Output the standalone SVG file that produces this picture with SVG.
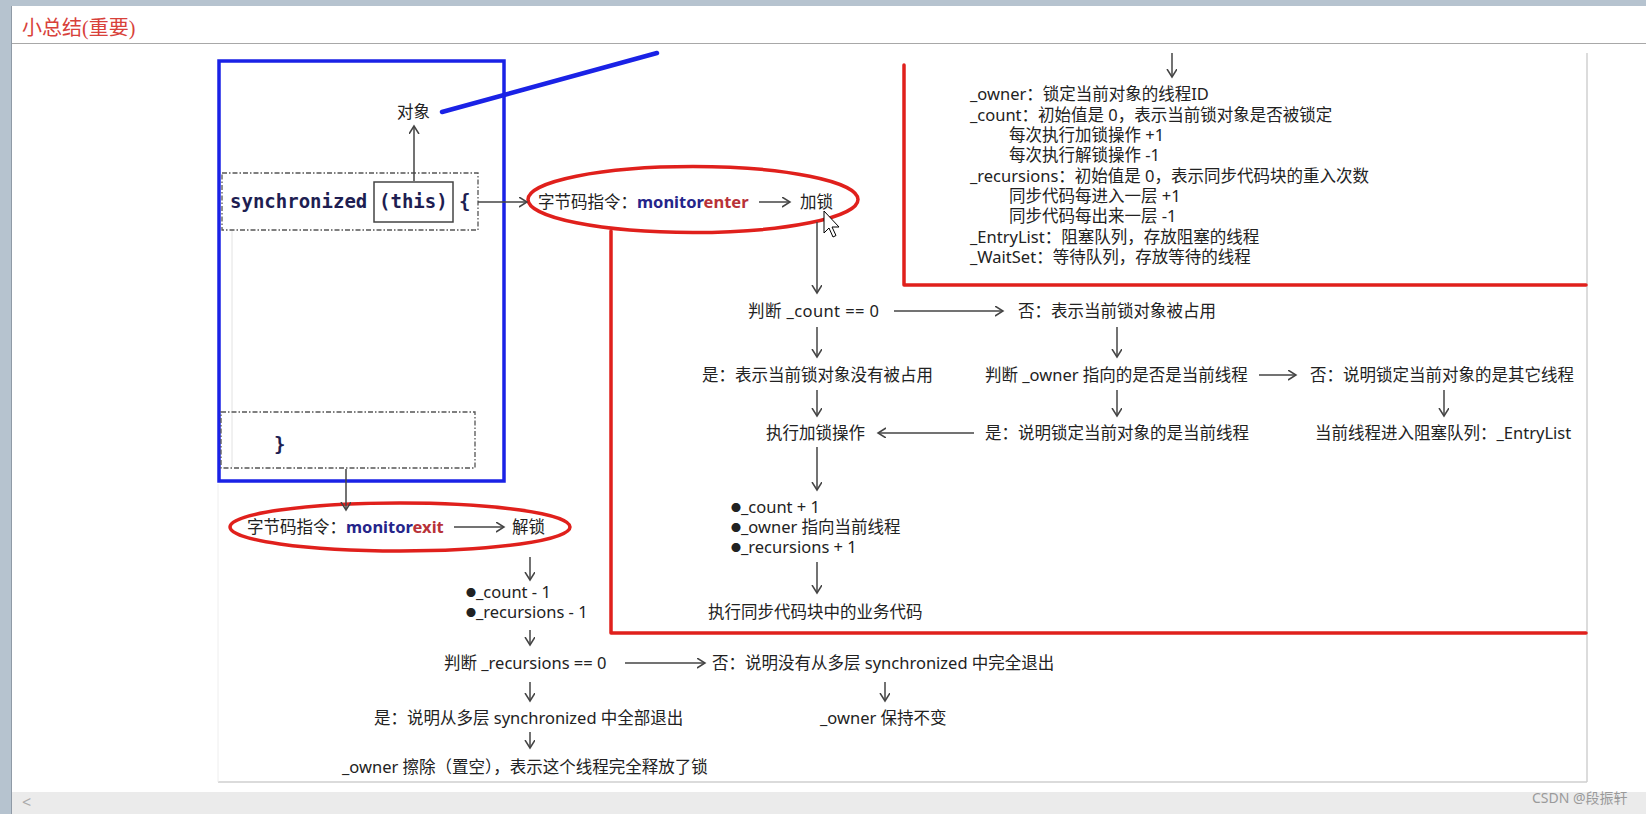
<svg xmlns="http://www.w3.org/2000/svg" width="1646" height="814" viewBox="0 0 1646 814">
<defs>
<style>
.t{font-family:"Noto Sans","Noto Sans CJK SC",sans-serif;font-size:16.5px;fill:#222}
.mono{font-family:"DejaVu Sans Mono","Liberation Mono",monospace;font-size:19px;font-weight:bold;fill:#1e1e52}
.b{font-weight:bold}
.blue{fill:#25258a}
.redt{fill:#b83238}
.dash{fill:none;stroke:#555;stroke-width:1.3;stroke-dasharray:5 2 1.5 2}
.red{fill:none;stroke:#e0201c;stroke-width:3.5;stroke-linecap:round;stroke-linejoin:round}
.con line{stroke:#444;stroke-width:1.5;marker-end:url(#ah)}
.bul{font-size:10px}
</style>
<marker id="ah" markerUnits="userSpaceOnUse" markerWidth="10" markerHeight="12" refX="8" refY="5" orient="auto">
<path d="M0,0 L8,5 L0,10" fill="none" stroke="#444" stroke-width="1.5"/>
</marker>
</defs>
<!-- window chrome -->
<rect x="0" y="0" width="1646" height="814" fill="#ffffff"/>
<rect x="0" y="0" width="1646" height="6" fill="#b6c3cf"/>
<rect x="0" y="0" width="12" height="814" fill="#b6c3cf"/>
<line x1="11.5" y1="6" x2="11.5" y2="814" stroke="#8f9aa6" stroke-width="1"/>
<g id="title">
<text x="22" y="35" style="font-family:'Liberation Serif','Noto Sans CJK SC',serif;font-size:20px;fill:#d8413a">小总结(重要)</text>
</g>
<line x1="12" y1="43.5" x2="1646" y2="43.5" stroke="#a8a8a8" stroke-width="1.2"/>
<rect x="12" y="792" width="1634" height="22" fill="#ebebeb"/>
<text x="22" y="808" style="font-family:'Noto Sans',sans-serif;font-size:16px;fill:#aaa">&lt;</text>
<text x="1532" y="803" style="font-family:'Noto Sans','Noto Sans CJK SC',sans-serif;font-size:14px;fill:#9a9a9a">CSDN @段振轩</text>
<!-- panel borders -->
<line x1="1587" y1="53" x2="1587" y2="782" stroke="#dcdcdc" stroke-width="2"/>
<line x1="218" y1="782" x2="1587" y2="782" stroke="#cfcfcf" stroke-width="1.5"/>
<line x1="218" y1="484" x2="218" y2="782" stroke="#eeeeee" stroke-width="1"/>
<line x1="232" y1="230" x2="232" y2="467" stroke="#e2e2e2" stroke-width="1"/>

<!-- code block -->
<g id="code">
<rect x="219" y="61" width="285" height="420" fill="none" stroke="#1a22e6" stroke-width="3.5"/>
<line x1="442" y1="112" x2="657" y2="53" stroke="#1a22e6" stroke-width="4.5" stroke-linecap="round"/>
<rect class="dash" x="222" y="173" width="256" height="57"/>
<rect class="dash" x="221" y="412" width="254" height="56"/>
<text class="mono" x="230" y="208">synchronized</text>
<rect x="374" y="182" width="79" height="40" fill="none" stroke="#444" stroke-width="1.5"/>
<text class="mono" x="379" y="208">(this)</text>
<text class="mono" x="459" y="208">{</text>
<text class="mono" x="274" y="451">}</text>
</g>
<g id="obj"><text class="t" x="397" y="118">对象</text></g>

<!-- red frames -->
<g id="frames">
<polyline class="red" points="611,231 611,633 1586,633"/>
<polyline class="red" points="904,65 904,285 1586,285"/>
<ellipse class="red" cx="693" cy="199.5" rx="165" ry="33"/>
<ellipse class="red" cx="400" cy="527" rx="170" ry="24"/>
</g>

<g id="enter">
<text class="t" x="538" y="208">字节码指令：<tspan class="b blue">monitor</tspan><tspan class="b redt">enter</tspan></text>
<text class="t" x="800" y="208">加锁</text>
</g>
<g id="exit">
<text class="t" x="247" y="533">字节码指令：<tspan class="b blue">monitor</tspan><tspan class="b redt">exit</tspan></text>
<text class="t" x="512" y="533">解锁</text>
</g>

<g id="fields">
<text class="t" x="970" y="100">_owner：锁定当前对象的线程ID</text>
<text class="t" x="970" y="121">_count：初始值是 0，表示当前锁对象是否被锁定</text>
<text class="t" x="1009" y="141">每次执行加锁操作 +1</text>
<text class="t" x="1009" y="161">每次执行解锁操作  -1</text>
<text class="t" x="970" y="182">_recursions：初始值是 0，表示同步代码块的重入次数</text>
<text class="t" x="1009" y="202">同步代码每进入一层 +1</text>
<text class="t" x="1009" y="222">同步代码每出来一层 -1</text>
<text class="t" x="970" y="243">_EntryList：阻塞队列，存放阻塞的线程</text>
<text class="t" x="970" y="263">_WaitSet：等待队列，存放等待的线程</text>
</g>

<g id="n-count"><text class="t" x="748" y="317" letter-spacing="0.4">判断 _count == 0</text></g>
<g id="n-occupied"><text class="t" x="1018" y="317">否：表示当前锁对象被占用</text></g>
<g id="n-free"><text class="t" x="702" y="381">是：表示当前锁对象没有被占用</text></g>
<g id="n-owner"><text class="t" x="985" y="381">判断 _owner 指向的是否是当前线程</text></g>
<g id="n-other"><text class="t" x="1310" y="381">否：说明锁定当前对象的是其它线程</text></g>
<g id="n-lock"><text class="t" x="766" y="439">执行加锁操作</text></g>
<g id="n-self"><text class="t" x="985" y="439">是：说明锁定当前对象的是当前线程</text></g>
<g id="n-entry"><text class="t" x="1315" y="439">当前线程进入阻塞队列：_EntryList</text></g>
<g id="n-inc">
<text class="t" x="731" y="513"><tspan class="bul" dy="-1">●</tspan><tspan dy="1">_count + 1</tspan></text>
<text class="t" x="731" y="533"><tspan class="bul" dy="-1">●</tspan><tspan dy="1">_owner 指向当前线程</tspan></text>
<text class="t" x="731" y="553"><tspan class="bul" dy="-1">●</tspan><tspan dy="1">_recursions + 1</tspan></text>
</g>
<g id="n-biz"><text class="t" x="708" y="618">执行同步代码块中的业务代码</text></g>
<g id="n-dec">
<text class="t" x="466" y="598"><tspan class="bul" dy="-1">●</tspan><tspan dy="1">_count - 1</tspan></text>
<text class="t" x="466" y="618"><tspan class="bul" dy="-1">●</tspan><tspan dy="1">_recursions - 1</tspan></text>
</g>
<g id="n-rec"><text class="t" x="444" y="669">判断 _recursions == 0</text></g>
<g id="n-notall"><text class="t" x="712" y="669">否：说明没有从多层 synchronized 中完全退出</text></g>
<g id="n-all"><text class="t" x="374" y="724">是：说明从多层 synchronized 中全部退出</text></g>
<g id="n-keep"><text class="t" x="820" y="724">_owner 保持不变</text></g>
<g id="n-clear"><text class="t" x="342" y="773">_owner 擦除（置空），表示这个线程完全释放了锁</text></g>

<g id="connectors" class="con">
<line x1="414" y1="181" x2="414" y2="126"/>
<line x1="478" y1="202" x2="527" y2="202"/>
<line x1="759" y1="202" x2="790" y2="202"/>
<line x1="817" y1="222" x2="817" y2="293"/>
<line x1="1172" y1="53" x2="1172" y2="77"/>
<line x1="894" y1="311" x2="1003" y2="311"/>
<line x1="817" y1="327" x2="817" y2="357"/>
<line x1="1117" y1="327" x2="1117" y2="357"/>
<line x1="1259" y1="375" x2="1296" y2="375"/>
<line x1="817" y1="390" x2="817" y2="416"/>
<line x1="1117" y1="390" x2="1117" y2="416"/>
<line x1="1444" y1="390" x2="1444" y2="416"/>
<line x1="974" y1="433" x2="878" y2="433"/>
<line x1="817" y1="447" x2="817" y2="490"/>
<line x1="817" y1="562" x2="817" y2="593"/>
<line x1="346" y1="469" x2="346" y2="510"/>
<line x1="454" y1="527" x2="504" y2="527"/>
<line x1="530" y1="557" x2="530" y2="580"/>
<line x1="530" y1="630" x2="530" y2="645"/>
<line x1="625" y1="663" x2="705" y2="663"/>
<line x1="530" y1="682" x2="530" y2="701"/>
<line x1="885" y1="682" x2="885" y2="701"/>
<line x1="530" y1="732" x2="530" y2="748"/>
</g>

<g id="cursor">
<path d="M824,211 L824,233 L829,228 L833,237 L836,235.5 L832,227 L839,227 Z" fill="#fff" stroke="#000" stroke-width="1" stroke-linejoin="round"/>
</g>
</svg>
